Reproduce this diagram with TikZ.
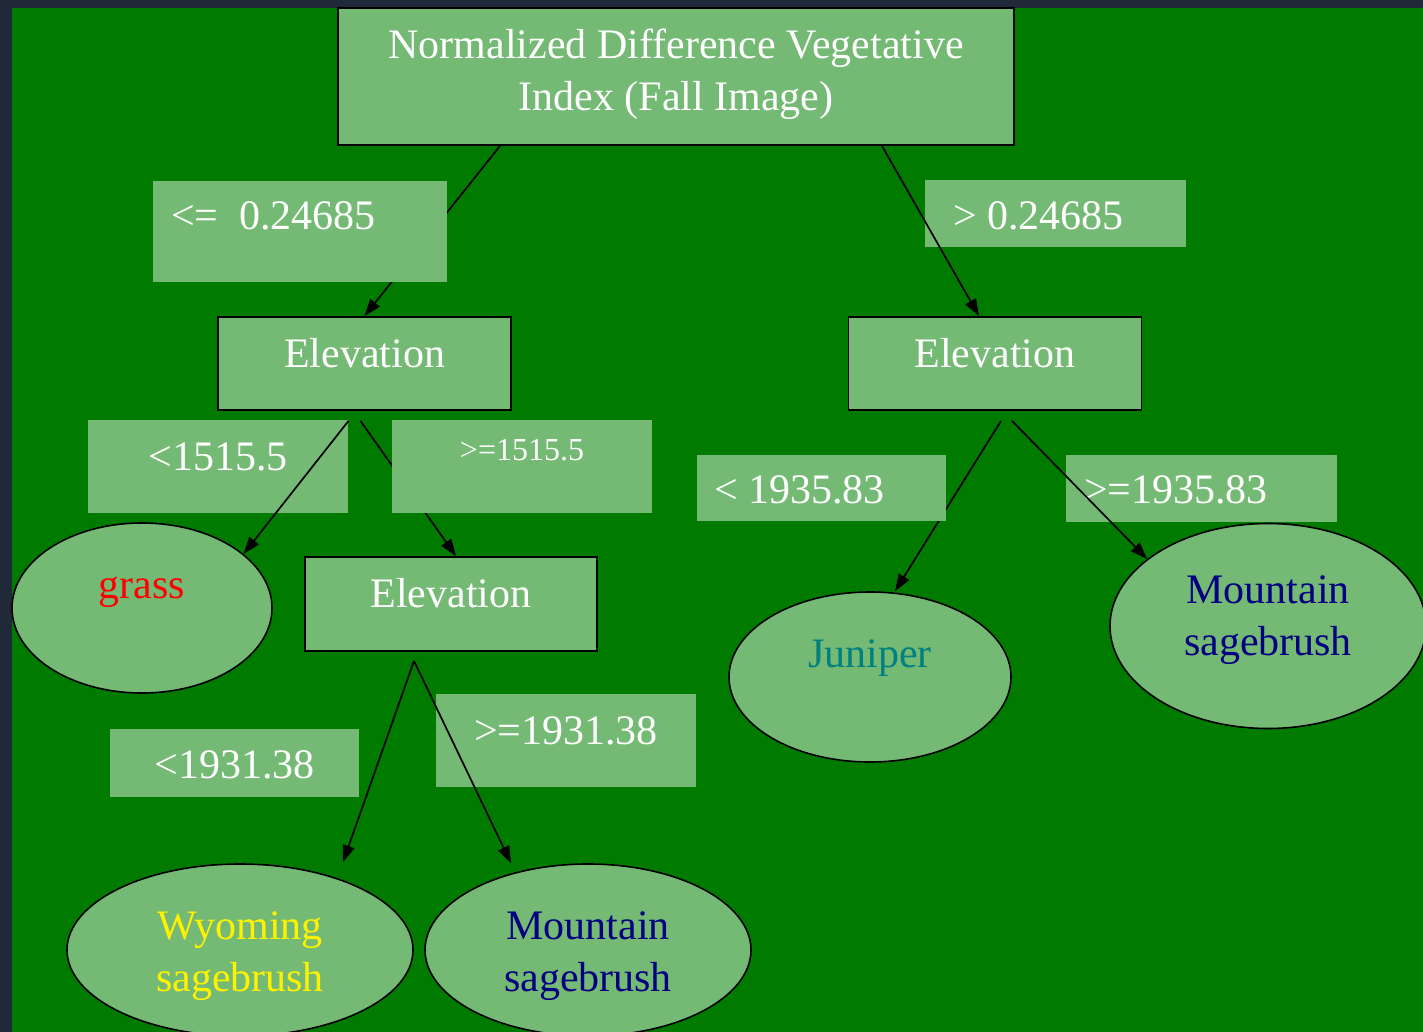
\documentclass[tikz,border=0pt]{standalone}
\usepackage{fontspec}
\setmainfont{Liberation Serif}
\usetikzlibrary{arrows.meta, shapes.geometric}

\definecolor{frame}{RGB}{31,41,55}
\definecolor{field}{RGB}{0,123,0}
\definecolor{pale}{RGB}{116,186,116}
\definecolor{tealtext}{RGB}{0,128,128}
\definecolor{navytext}{RGB}{0,0,128}

\begin{document}
\begin{tikzpicture}[
    x=1pt, y=-1pt,
    split/.style={draw, line width=1.8pt, fill=pale, inner sep=0pt},
    leaf/.style={ellipse, draw, line width=1.6pt, fill=pale, inner sep=0pt},
    cond/.style={fill=pale, inner sep=0pt},
    txt/.style={font=\fontsize{42}{52}\selectfont, text=white, align=center, inner sep=0pt},
    edge/.style={-{Triangle[length=17pt, width=12pt]}, line width=1.7pt}
]
    \useasboundingbox (0,0) rectangle (1423,1032);
    \fill[frame] (0,0) rectangle (1423,1032);
    \fill[field] (12,8) rectangle (1423,1032);

    % split nodes
    \node[split, minimum width=676pt, minimum height=137pt,
        label={[txt, yshift=2pt]center:{Normalized Difference Vegetative\\Index (Fall Image)}}] (ndvi) at (676,76.5) {};
    \node[split, minimum width=293pt, minimum height=93pt,
        label={[txt, yshift=10pt]center:Elevation}] (elevA) at (364.5,363.5) {};
    \node[split, minimum width=293pt, minimum height=93pt,
        label={[txt, yshift=10pt]center:Elevation}] (elevB) at (995,363.5) {};
    \node[split, minimum width=292pt, minimum height=94pt,
        label={[txt, yshift=11pt]center:Elevation}] (elevC) at (451,604) {};

    % leaves
    \node[leaf, minimum width=260pt, minimum height=170pt,
        label={[txt, text=red, yshift=16pt]center:grass}] (grass) at (142,608) {};
    \node[leaf, minimum width=282pt, minimum height=170pt,
        label={[txt, text=tealtext, yshift=19pt]center:Juniper}] (juniper) at (870,677) {};
    \node[leaf, minimum width=316pt, minimum height=205pt,
        label={[txt, text=navytext, yshift=6pt]center:{Mountain\\sagebrush}}] (mountB) at (1268,626) {};
    \node[leaf, minimum width=346pt, minimum height=172pt,
        label={[txt, text=yellow, yshift=-6pt]center:{Wyoming\\sagebrush}}] (wyoming) at (240,950) {};
    \node[leaf, minimum width=326pt, minimum height=172pt,
        label={[txt, text=navytext, yshift=-6pt]center:{Mountain\\sagebrush}}] (mountA) at (588,950) {};

    % edges hidden under the condition boxes
    \draw[edge] ([xshift=-176pt]ndvi.south) -- (elevA.north);
    \draw[edge] ([xshift=-4pt,yshift=-10pt]elevA.south) -- ([xshift=5pt]elevC.north);
    \draw[edge] ([xshift=6pt,yshift=-10pt]elevB.south) -- ([xshift=25pt]juniper.north);

    % condition boxes
    \node[cond, minimum width=294pt, minimum height=101pt,
        label={[txt, anchor=west, xshift=18pt, yshift=15.5pt]west:{<=\ \ 0.24685}}] (le) at (300,231.5) {};
    \node[cond, minimum width=261pt, minimum height=67pt,
        label={[txt, anchor=west, xshift=28pt, yshift=-2.5pt]west:{> 0.24685}}] (gt) at (1055.5,213.5) {};
    \node[cond, minimum width=260pt, minimum height=93pt,
        label={[txt, yshift=9.5pt]center:{<1515.5}}] (ltA) at (218,466.5) {};
    \node[cond, minimum width=260pt, minimum height=93pt,
        label={[txt, font=\fontsize{32}{40}\selectfont, yshift=16.5pt]center:{>=1515.5}}] (geA) at (522,466.5) {};
    \node[cond, minimum width=249pt, minimum height=66pt,
        label={[txt, anchor=west, xshift=17pt, yshift=-2pt]west:{< 1935.83}}] (ltB) at (821.5,488) {};
    \node[cond, minimum width=271pt, minimum height=67pt,
        label={[txt, anchor=west, xshift=18pt, yshift=-1.5pt]west:{>=1935.83}}] (geB) at (1201.5,488.5) {};
    \node[cond, minimum width=249pt, minimum height=68pt,
        label={[txt, yshift=-2pt]center:{<1931.38}}] (ltC) at (234.5,763) {};
    \node[cond, minimum width=260pt, minimum height=93pt,
        label={[txt, yshift=9.5pt]center:{>=1931.38}}] (geC) at (566,740.5) {};

    % edges drawn over the condition boxes
    \draw[edge] ([xshift=206pt]ndvi.south) -- ([xshift=-16pt]elevB.north);
    \draw[edge] ([xshift=-16pt,yshift=-10pt]elevA.south) -- (grass.28);
    \draw[edge] ([xshift=-37pt,yshift=-9pt]elevC.south) -- ([xshift=103pt,yshift=1pt]wyoming.north);
    \draw[edge] ([xshift=-37pt,yshift=-9pt]elevC.south) -- ([xshift=-77pt]mountA.north);
    \draw[edge] ([xshift=17pt,yshift=-10pt]elevB.south) -- (mountB.151);
\end{tikzpicture}
\end{document}
